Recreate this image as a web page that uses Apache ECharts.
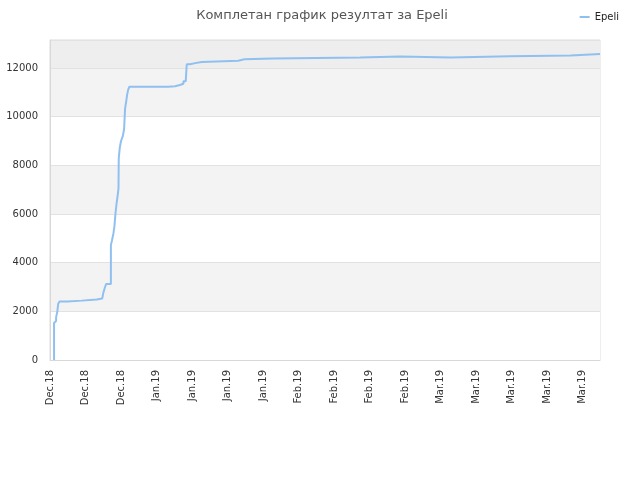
<!DOCTYPE html>
<html><head><meta charset="utf-8">
<script src="https://cdn.jsdelivr.net/npm/echarts@6/dist/echarts.min.js"></script>
<style>html,body{margin:0;padding:0;background:#fff}#c{width:640px;height:480px}</style>
</head><body><div id="c"></div>
<script>
// days since Dec 14 2018 (label ticks weekly)
var days = [0.8, 0.8, 1.0, 1.2, 1.45, 1.6, 1.85, 3.4, 6.25, 9.2, 10.3, 10.5, 10.85, 11.05, 12.0, 12.2, 12.5, 12.7, 12.9, 13.1, 13.3, 13.5, 13.55, 13.75, 14.0, 14.35, 14.6, 14.8, 15.0, 15.2, 15.4, 15.65, 23.3, 24.65, 25.6, 26.3, 26.75, 26.95, 27.6, 28.6, 29.9, 37.1, 38.3, 43.9, 61.1, 69.0, 79.0, 90.7, 102.6, 108.4];
var values = [0, 1520, 1600, 1750, 2000, 2300, 2400, 2440, 2490, 2530, 2600, 2750, 3000, 3120, 4720, 4900, 5200, 5500, 6000, 6400, 6700, 7050, 8290, 8720, 9000, 9200, 9480, 10340, 10600, 10900, 11100, 11230, 11250, 11300, 11350, 11450, 11480, 12150, 12200, 12250, 12300, 12360, 12390, 12430, 12470, 12430, 12480, 12510, 12570, 12570];
var tickLabels = ['Dec.18','Dec.18','Dec.18','Jan.19','Jan.19','Jan.19','Jan.19','Feb.19','Feb.19','Feb.19','Feb.19','Mar.19','Mar.19','Mar.19','Mar.19','Mar.19'];
var seriesName = 'Epeli';
var titleText = 'Комплетан график резултат за Epeli';

var data = days.map(function(d,i){return [d, values[i]];});
var chart = echarts.init(document.getElementById('c'));
chart.setOption({
  animation:false,
  textStyle:{fontFamily:'DejaVu Sans'},
  title:{text:titleText,left:317,textAlign:'center',top:4,textStyle:{fontSize:13,fontWeight:'normal',color:'#555',fontFamily:'DejaVu Sans'}},
  legend:{right:16,top:7,icon:'rect',itemWidth:10,itemHeight:2,itemGap:8,textStyle:{fontSize:10,color:'#222'},data:[seriesName]},
  grid:{left:50,right:40,top:40,bottom:120,show:true,borderColor:'#dddddd',borderWidth:1,backgroundColor:'transparent'},
  xAxis:{type:'value',min:0,max:108.4,interval:7,
    axisLine:{show:true,lineStyle:{color:'#d8d8d8'}},axisTick:{show:false},splitLine:{show:false},
    axisLabel:{rotate:90,fontSize:10,color:'#333',margin:10,showMaxLabel:false,
      formatter:function(v){var i=Math.round(v/7);return tickLabels[i]||'';}}},
  yAxis:{type:'value',min:0,max:13150,interval:2000,
    axisLine:{show:true,lineStyle:{color:'#d8d8d8'}},axisTick:{show:false},
    axisLabel:{fontSize:10,color:'#333',margin:12,showMaxLabel:false,formatter:function(v){return String(v);}},
    splitLine:{show:true,lineStyle:{color:'#e2e2e2'}},
    splitArea:{show:true,areaStyle:{color:['#ffffff','#f3f3f3','#ffffff','#f3f3f3','#ffffff','#f3f3f3','#eeeeee']}}},
  series:[{name:seriesName,type:'line',step:'end',data:data,showSymbol:false,symbol:'none',
    lineStyle:{color:'#90c0f0',width:2},itemStyle:{color:'#90c0f0'}}]
});
</script></body></html>
